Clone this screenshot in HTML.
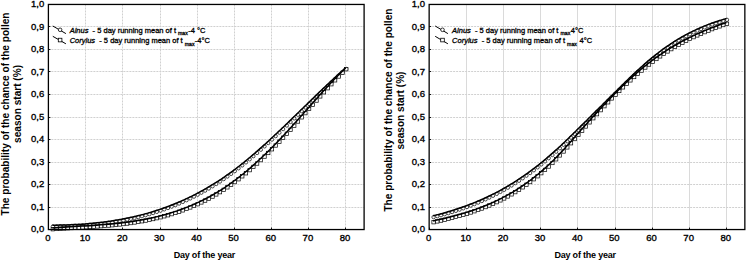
<!DOCTYPE html>
<html><head><meta charset="utf-8"><style>
html,body{margin:0;padding:0;background:#fff;}
body{width:746px;height:261px;overflow:hidden;}
svg{display:block;}
text{font-family:"Liberation Sans",sans-serif;font-weight:bold;fill:#000;white-space:pre;}
.tk{font-size:9.5px;font-weight:normal;stroke:#000;stroke-width:0.35px;}
.ti{font-size:9px;letter-spacing:-0.2px;}
.yl{font-size:10.1px;}
.lg{font-size:7.5px;font-weight:normal;stroke:#000;stroke-width:0.3px;}
.sub{font-size:5.2px;}
</style></head><body>
<svg width="746" height="261" viewBox="0 0 746 261">
<rect width="746" height="261" fill="#fff"/>
<path d="M85.50 4.45V229.55 M122.50 4.45V229.55 M160.50 4.45V229.55 M197.50 4.45V229.55 M234.50 4.45V229.55 M271.50 4.45V229.55 M308.50 4.45V229.55 M345.50 4.45V229.55 M48.40 207.50H364.10 M48.40 184.50H364.10 M48.40 162.50H364.10 M48.40 139.50H364.10 M48.40 117.50H364.10 M48.40 94.50H364.10 M48.40 71.50H364.10 M48.40 49.50H364.10 M48.40 26.50H364.10" stroke="#d0d0d0" stroke-width="1" stroke-dasharray="2 1" fill="none"/>
<path d="M48.50 229.55v-2 M85.50 229.55v-2 M122.50 229.55v-2 M160.50 229.55v-2 M197.50 229.55v-2 M234.50 229.55v-2 M271.50 229.55v-2 M308.50 229.55v-2 M345.50 229.55v-2 M48.40 229.50h2 M48.40 207.50h2 M48.40 184.50h2 M48.40 162.50h2 M48.40 139.50h2 M48.40 117.50h2 M48.40 94.50h2 M48.40 71.50h2 M48.40 49.50h2 M48.40 26.50h2 M48.40 4.50h2" stroke="#000" stroke-width="0.9" fill="none"/>
<text x="44.30" y="232.35" text-anchor="end" class="tk">0,0</text>
<text x="44.30" y="209.84" text-anchor="end" class="tk">0,1</text>
<text x="44.30" y="187.33" text-anchor="end" class="tk">0,2</text>
<text x="44.30" y="164.82" text-anchor="end" class="tk">0,3</text>
<text x="44.30" y="142.31" text-anchor="end" class="tk">0,4</text>
<text x="44.30" y="119.80" text-anchor="end" class="tk">0,5</text>
<text x="44.30" y="97.29" text-anchor="end" class="tk">0,6</text>
<text x="44.30" y="74.78" text-anchor="end" class="tk">0,7</text>
<text x="44.30" y="52.27" text-anchor="end" class="tk">0,8</text>
<text x="44.30" y="29.76" text-anchor="end" class="tk">0,9</text>
<text x="44.30" y="7.25" text-anchor="end" class="tk">1,0</text>
<text x="47.92" y="241.30" text-anchor="middle" class="tk">0</text>
<text x="85.06" y="241.30" text-anchor="middle" class="tk">10</text>
<text x="122.20" y="241.30" text-anchor="middle" class="tk">20</text>
<text x="159.34" y="241.30" text-anchor="middle" class="tk">30</text>
<text x="196.48" y="241.30" text-anchor="middle" class="tk">40</text>
<text x="233.62" y="241.30" text-anchor="middle" class="tk">50</text>
<text x="270.76" y="241.30" text-anchor="middle" class="tk">60</text>
<text x="307.90" y="241.30" text-anchor="middle" class="tk">70</text>
<text x="345.04" y="241.30" text-anchor="middle" class="tk">80</text>
<text x="204.40" y="258.30" text-anchor="middle" class="ti">Day of the year</text>
<text transform="translate(8.60,215.50) rotate(-90)" class="yl">The probability of the chance of the pollen</text>
<text transform="translate(21.30,142.90) rotate(-90)" class="yl">season start (%)</text>
<g fill="#fff" stroke="#000" stroke-width="0.7"><circle cx="52.83" cy="226.51" r="1.7"/><circle cx="56.55" cy="226.47" r="1.7"/><circle cx="60.26" cy="226.40" r="1.7"/><circle cx="63.98" cy="226.32" r="1.7"/><circle cx="67.69" cy="226.20" r="1.7"/><circle cx="71.40" cy="226.06" r="1.7"/><circle cx="75.12" cy="225.88" r="1.7"/><circle cx="78.83" cy="225.68" r="1.7"/><circle cx="82.55" cy="225.45" r="1.7"/><circle cx="86.26" cy="225.18" r="1.7"/><circle cx="89.97" cy="224.87" r="1.7"/><circle cx="93.69" cy="224.53" r="1.7"/><circle cx="97.40" cy="224.16" r="1.7"/><circle cx="101.12" cy="223.74" r="1.7"/><circle cx="104.83" cy="223.28" r="1.7"/><circle cx="108.54" cy="222.78" r="1.7"/><circle cx="112.26" cy="222.24" r="1.7"/><circle cx="115.97" cy="221.66" r="1.7"/><circle cx="119.69" cy="221.02" r="1.7"/><circle cx="123.40" cy="220.35" r="1.7"/><circle cx="127.11" cy="219.62" r="1.7"/><circle cx="130.83" cy="218.84" r="1.7"/><circle cx="134.54" cy="218.01" r="1.7"/><circle cx="138.26" cy="217.13" r="1.7"/><circle cx="141.97" cy="216.19" r="1.7"/><circle cx="145.68" cy="215.20" r="1.7"/><circle cx="149.40" cy="214.15" r="1.7"/><circle cx="153.11" cy="213.04" r="1.7"/><circle cx="156.83" cy="211.87" r="1.7"/><circle cx="160.54" cy="210.65" r="1.7"/><circle cx="164.25" cy="209.36" r="1.7"/><circle cx="167.97" cy="208.00" r="1.7"/><circle cx="171.68" cy="206.58" r="1.7"/><circle cx="175.40" cy="205.09" r="1.7"/><circle cx="179.11" cy="203.54" r="1.7"/><circle cx="182.82" cy="201.92" r="1.7"/><circle cx="186.54" cy="200.22" r="1.7"/><circle cx="190.25" cy="198.45" r="1.7"/><circle cx="193.97" cy="196.61" r="1.7"/><circle cx="197.68" cy="194.70" r="1.7"/><circle cx="201.39" cy="192.71" r="1.7"/><circle cx="205.11" cy="190.64" r="1.7"/><circle cx="208.82" cy="188.49" r="1.7"/><circle cx="212.54" cy="186.26" r="1.7"/><circle cx="216.25" cy="183.95" r="1.7"/><circle cx="219.96" cy="181.56" r="1.7"/><circle cx="223.68" cy="179.08" r="1.7"/><circle cx="227.39" cy="176.51" r="1.7"/><circle cx="231.11" cy="173.86" r="1.7"/><circle cx="234.82" cy="171.12" r="1.7"/><circle cx="238.53" cy="168.29" r="1.7"/><circle cx="242.25" cy="165.38" r="1.7"/><circle cx="245.96" cy="162.38" r="1.7"/><circle cx="249.68" cy="159.31" r="1.7"/><circle cx="253.39" cy="156.17" r="1.7"/><circle cx="257.10" cy="152.97" r="1.7"/><circle cx="260.82" cy="149.70" r="1.7"/><circle cx="264.53" cy="146.37" r="1.7"/><circle cx="268.25" cy="143.00" r="1.7"/><circle cx="271.96" cy="139.58" r="1.7"/><circle cx="275.67" cy="136.12" r="1.7"/><circle cx="279.39" cy="132.62" r="1.7"/><circle cx="283.10" cy="129.09" r="1.7"/><circle cx="286.82" cy="125.53" r="1.7"/><circle cx="290.53" cy="121.95" r="1.7"/><circle cx="294.24" cy="118.36" r="1.7"/><circle cx="297.96" cy="114.75" r="1.7"/><circle cx="301.67" cy="111.13" r="1.7"/><circle cx="305.39" cy="107.52" r="1.7"/><circle cx="309.10" cy="103.90" r="1.7"/><circle cx="312.81" cy="100.30" r="1.7"/><circle cx="316.53" cy="96.70" r="1.7"/><circle cx="320.24" cy="93.12" r="1.7"/><circle cx="323.96" cy="89.57" r="1.7"/><circle cx="327.67" cy="86.04" r="1.7"/><circle cx="331.38" cy="82.54" r="1.7"/><circle cx="335.10" cy="79.08" r="1.7"/><circle cx="338.81" cy="75.67" r="1.7"/><circle cx="342.53" cy="72.29" r="1.7"/><circle cx="346.24" cy="68.97" r="1.7"/></g>
<path d="M52.33 225.21 L56.05 225.17 L59.76 225.10 L63.48 225.02 L67.19 224.90 L70.90 224.76 L74.62 224.58 L78.33 224.38 L82.05 224.15 L85.76 223.88 L89.47 223.57 L93.19 223.23 L96.90 222.86 L100.62 222.44 L104.33 221.98 L108.04 221.48 L111.76 220.94 L115.47 220.36 L119.19 219.72 L122.90 219.05 L126.61 218.32 L130.33 217.54 L134.04 216.71 L137.76 215.83 L141.47 214.89 L145.18 213.90 L148.90 212.85 L152.61 211.74 L156.33 210.57 L160.04 209.35 L163.75 208.06 L167.47 206.70 L171.18 205.28 L174.90 203.79 L178.61 202.24 L182.32 200.62 L186.04 198.92 L189.75 197.15 L193.47 195.31 L197.18 193.40 L200.89 191.41 L204.61 189.34 L208.32 187.19 L212.04 184.96 L215.75 182.65 L219.46 180.26 L223.18 177.78 L226.89 175.21 L230.61 172.56 L234.32 169.82 L238.03 166.99 L241.75 164.08 L245.46 161.08 L249.18 158.01 L252.89 154.87 L256.60 151.67 L260.32 148.40 L264.03 145.07 L267.75 141.70 L271.46 138.28 L275.17 134.82 L278.89 131.32 L282.60 127.79 L286.32 124.23 L290.03 120.65 L293.74 117.06 L297.46 113.45 L301.17 109.83 L304.89 106.22 L308.60 102.60 L312.31 99.00 L316.03 95.40 L319.74 91.82 L323.46 88.27 L327.17 84.74 L330.88 81.24 L334.60 77.78 L338.31 74.37 L342.03 70.99 L345.74 67.67" stroke="#000" stroke-width="1.5" fill="none"/>
<g fill="#fff" stroke="#000" stroke-width="0.7"><rect x="51.13" y="227.51" width="3.40" height="3.40"/><rect x="54.85" y="227.26" width="3.40" height="3.40"/><rect x="58.56" y="227.02" width="3.40" height="3.40"/><rect x="62.28" y="226.79" width="3.40" height="3.40"/><rect x="65.99" y="226.57" width="3.40" height="3.40"/><rect x="69.70" y="226.35" width="3.40" height="3.40"/><rect x="73.42" y="226.14" width="3.40" height="3.40"/><rect x="77.13" y="225.92" width="3.40" height="3.40"/><rect x="80.85" y="225.70" width="3.40" height="3.40"/><rect x="84.56" y="225.48" width="3.40" height="3.40"/><rect x="88.27" y="225.25" width="3.40" height="3.40"/><rect x="91.99" y="225.01" width="3.40" height="3.40"/><rect x="95.70" y="224.75" width="3.40" height="3.40"/><rect x="99.42" y="224.47" width="3.40" height="3.40"/><rect x="103.13" y="224.18" width="3.40" height="3.40"/><rect x="106.84" y="223.86" width="3.40" height="3.40"/><rect x="110.56" y="223.52" width="3.40" height="3.40"/><rect x="114.27" y="223.15" width="3.40" height="3.40"/><rect x="117.99" y="222.75" width="3.40" height="3.40"/><rect x="121.70" y="222.32" width="3.40" height="3.40"/><rect x="125.41" y="221.85" width="3.40" height="3.40"/><rect x="129.13" y="221.35" width="3.40" height="3.40"/><rect x="132.84" y="220.80" width="3.40" height="3.40"/><rect x="136.56" y="220.20" width="3.40" height="3.40"/><rect x="140.27" y="219.57" width="3.40" height="3.40"/><rect x="143.98" y="218.88" width="3.40" height="3.40"/><rect x="147.70" y="218.13" width="3.40" height="3.40"/><rect x="151.41" y="217.34" width="3.40" height="3.40"/><rect x="155.13" y="216.48" width="3.40" height="3.40"/><rect x="158.84" y="215.57" width="3.40" height="3.40"/><rect x="162.55" y="214.59" width="3.40" height="3.40"/><rect x="166.27" y="213.55" width="3.40" height="3.40"/><rect x="169.98" y="212.43" width="3.40" height="3.40"/><rect x="173.70" y="211.25" width="3.40" height="3.40"/><rect x="177.41" y="209.99" width="3.40" height="3.40"/><rect x="181.12" y="208.66" width="3.40" height="3.40"/><rect x="184.84" y="207.24" width="3.40" height="3.40"/><rect x="188.55" y="205.74" width="3.40" height="3.40"/><rect x="192.27" y="204.16" width="3.40" height="3.40"/><rect x="195.98" y="202.49" width="3.40" height="3.40"/><rect x="199.69" y="200.73" width="3.40" height="3.40"/><rect x="203.41" y="198.88" width="3.40" height="3.40"/><rect x="207.12" y="196.93" width="3.40" height="3.40"/><rect x="210.84" y="194.88" width="3.40" height="3.40"/><rect x="214.55" y="192.73" width="3.40" height="3.40"/><rect x="218.26" y="190.47" width="3.40" height="3.40"/><rect x="221.98" y="188.11" width="3.40" height="3.40"/><rect x="225.69" y="185.64" width="3.40" height="3.40"/><rect x="229.41" y="183.06" width="3.40" height="3.40"/><rect x="233.12" y="180.36" width="3.40" height="3.40"/><rect x="236.83" y="177.54" width="3.40" height="3.40"/><rect x="240.55" y="174.61" width="3.40" height="3.40"/><rect x="244.26" y="171.58" width="3.40" height="3.40"/><rect x="247.98" y="168.43" width="3.40" height="3.40"/><rect x="251.69" y="165.18" width="3.40" height="3.40"/><rect x="255.40" y="161.84" width="3.40" height="3.40"/><rect x="259.12" y="158.40" width="3.40" height="3.40"/><rect x="262.83" y="154.88" width="3.40" height="3.40"/><rect x="266.55" y="151.27" width="3.40" height="3.40"/><rect x="270.26" y="147.57" width="3.40" height="3.40"/><rect x="273.97" y="143.80" width="3.40" height="3.40"/><rect x="277.69" y="139.96" width="3.40" height="3.40"/><rect x="281.40" y="136.05" width="3.40" height="3.40"/><rect x="285.12" y="132.07" width="3.40" height="3.40"/><rect x="288.83" y="128.04" width="3.40" height="3.40"/><rect x="292.54" y="123.94" width="3.40" height="3.40"/><rect x="296.26" y="119.81" width="3.40" height="3.40"/><rect x="299.97" y="115.63" width="3.40" height="3.40"/><rect x="303.69" y="111.44" width="3.40" height="3.40"/><rect x="307.40" y="107.24" width="3.40" height="3.40"/><rect x="311.11" y="103.04" width="3.40" height="3.40"/><rect x="314.83" y="98.85" width="3.40" height="3.40"/><rect x="318.54" y="94.69" width="3.40" height="3.40"/><rect x="322.26" y="90.58" width="3.40" height="3.40"/><rect x="325.97" y="86.52" width="3.40" height="3.40"/><rect x="329.68" y="82.52" width="3.40" height="3.40"/><rect x="333.40" y="78.61" width="3.40" height="3.40"/><rect x="337.11" y="74.80" width="3.40" height="3.40"/><rect x="340.83" y="71.09" width="3.40" height="3.40"/><rect x="344.54" y="67.50" width="3.40" height="3.40"/></g>
<path d="M52.33 227.91 L56.05 227.66 L59.76 227.42 L63.48 227.19 L67.19 226.97 L70.90 226.75 L74.62 226.54 L78.33 226.32 L82.05 226.10 L85.76 225.88 L89.47 225.65 L93.19 225.41 L96.90 225.15 L100.62 224.87 L104.33 224.58 L108.04 224.26 L111.76 223.92 L115.47 223.55 L119.19 223.15 L122.90 222.72 L126.61 222.25 L130.33 221.75 L134.04 221.20 L137.76 220.60 L141.47 219.97 L145.18 219.28 L148.90 218.53 L152.61 217.74 L156.33 216.88 L160.04 215.97 L163.75 214.99 L167.47 213.95 L171.18 212.83 L174.90 211.65 L178.61 210.39 L182.32 209.06 L186.04 207.64 L189.75 206.14 L193.47 204.56 L197.18 202.89 L200.89 201.13 L204.61 199.28 L208.32 197.33 L212.04 195.28 L215.75 193.13 L219.46 190.87 L223.18 188.51 L226.89 186.04 L230.61 183.46 L234.32 180.76 L238.03 177.94 L241.75 175.01 L245.46 171.98 L249.18 168.83 L252.89 165.58 L256.60 162.24 L260.32 158.80 L264.03 155.28 L267.75 151.67 L271.46 147.97 L275.17 144.20 L278.89 140.36 L282.60 136.45 L286.32 132.47 L290.03 128.44 L293.74 124.34 L297.46 120.21 L301.17 116.03 L304.89 111.84 L308.60 107.64 L312.31 103.44 L316.03 99.25 L319.74 95.09 L323.46 90.98 L327.17 86.92 L330.88 82.92 L334.60 79.01 L338.31 75.20 L342.03 71.49 L345.74 67.90" stroke="#000" stroke-width="1.5" fill="none"/>
<rect x="48.40" y="4.45" width="315.70" height="225.10" fill="none" stroke="#000" stroke-width="1.3"/>
<rect x="49.2" y="27.3" width="165" height="16" fill="#fff"/>
<path d="M52.8 26L65.9 33.6M52.8 36.3L65.9 43.8" stroke="#000" stroke-width="1"/>
<circle cx="60.1" cy="29.8" r="1.8" fill="#fff" stroke="#000" stroke-width="0.8"/>
<rect x="58.300000000000004" y="38.25" width="3.6" height="3.6" fill="#fff" stroke="#000" stroke-width="0.8"/>
<text x="69.7" y="32.7" class="lg"><tspan font-style="italic">Alnus</tspan>  - 5 day running mean of t<tspan class="sub" dx="2" dy="2.6">max</tspan><tspan dx="0.3" dy="-2.6">-4 °C</tspan></text>
<text x="69.7" y="42.9" class="lg"><tspan font-style="italic">Corylus</tspan>  - 5 day running mean of t<tspan class="sub" dx="2" dy="2.6">max</tspan><tspan dx="0.3" dy="-2.6">-4°C</tspan></text>
<path d="M466.50 4.45V229.55 M503.50 4.45V229.55 M540.50 4.45V229.55 M577.50 4.45V229.55 M615.50 4.45V229.55 M652.50 4.45V229.55 M689.50 4.45V229.55 M726.50 4.45V229.55" stroke="#dadada" stroke-width="1" fill="none"/>
<path d="M429.15 207.50H744.85 M429.15 184.50H744.85 M429.15 162.50H744.85 M429.15 139.50H744.85 M429.15 117.50H744.85 M429.15 94.50H744.85 M429.15 71.50H744.85 M429.15 49.50H744.85 M429.15 26.50H744.85" stroke="#d0d0d0" stroke-width="1" stroke-dasharray="2 1" fill="none"/>
<path d="M429.50 229.55v-2 M466.50 229.55v-2 M503.50 229.55v-2 M540.50 229.55v-2 M577.50 229.55v-2 M615.50 229.55v-2 M652.50 229.55v-2 M689.50 229.55v-2 M726.50 229.55v-2 M429.15 229.50h2 M429.15 207.50h2 M429.15 184.50h2 M429.15 162.50h2 M429.15 139.50h2 M429.15 117.50h2 M429.15 94.50h2 M429.15 71.50h2 M429.15 49.50h2 M429.15 26.50h2 M429.15 4.50h2" stroke="#000" stroke-width="0.9" fill="none"/>
<text x="425.05" y="232.35" text-anchor="end" class="tk">0,0</text>
<text x="425.05" y="209.84" text-anchor="end" class="tk">0,1</text>
<text x="425.05" y="187.33" text-anchor="end" class="tk">0,2</text>
<text x="425.05" y="164.82" text-anchor="end" class="tk">0,3</text>
<text x="425.05" y="142.31" text-anchor="end" class="tk">0,4</text>
<text x="425.05" y="119.80" text-anchor="end" class="tk">0,5</text>
<text x="425.05" y="97.29" text-anchor="end" class="tk">0,6</text>
<text x="425.05" y="74.78" text-anchor="end" class="tk">0,7</text>
<text x="425.05" y="52.27" text-anchor="end" class="tk">0,8</text>
<text x="425.05" y="29.76" text-anchor="end" class="tk">0,9</text>
<text x="425.05" y="7.25" text-anchor="end" class="tk">1,0</text>
<text x="428.67" y="241.30" text-anchor="middle" class="tk">0</text>
<text x="465.81" y="241.30" text-anchor="middle" class="tk">10</text>
<text x="502.95" y="241.30" text-anchor="middle" class="tk">20</text>
<text x="540.09" y="241.30" text-anchor="middle" class="tk">30</text>
<text x="577.23" y="241.30" text-anchor="middle" class="tk">40</text>
<text x="614.37" y="241.30" text-anchor="middle" class="tk">50</text>
<text x="651.51" y="241.30" text-anchor="middle" class="tk">60</text>
<text x="688.65" y="241.30" text-anchor="middle" class="tk">70</text>
<text x="725.79" y="241.30" text-anchor="middle" class="tk">80</text>
<text x="585.15" y="258.30" text-anchor="middle" class="ti">Day of the year</text>
<text transform="translate(392.00,211.60) rotate(-90)" class="yl">The probability of the chance of the pollen</text>
<text transform="translate(404.40,149.50) rotate(-90)" class="yl">season start (%)</text>
<g fill="#fff" stroke="#000" stroke-width="0.7"><circle cx="433.58" cy="217.12" r="1.7"/><circle cx="437.30" cy="216.19" r="1.7"/><circle cx="441.01" cy="215.23" r="1.7"/><circle cx="444.73" cy="214.21" r="1.7"/><circle cx="448.44" cy="213.14" r="1.7"/><circle cx="452.15" cy="212.03" r="1.7"/><circle cx="455.87" cy="210.86" r="1.7"/><circle cx="459.58" cy="209.63" r="1.7"/><circle cx="463.30" cy="208.35" r="1.7"/><circle cx="467.01" cy="207.00" r="1.7"/><circle cx="470.72" cy="205.60" r="1.7"/><circle cx="474.44" cy="204.13" r="1.7"/><circle cx="478.15" cy="202.59" r="1.7"/><circle cx="481.87" cy="200.99" r="1.7"/><circle cx="485.58" cy="199.32" r="1.7"/><circle cx="489.29" cy="197.57" r="1.7"/><circle cx="493.01" cy="195.75" r="1.7"/><circle cx="496.72" cy="193.85" r="1.7"/><circle cx="500.44" cy="191.88" r="1.7"/><circle cx="504.15" cy="189.82" r="1.7"/><circle cx="507.86" cy="187.68" r="1.7"/><circle cx="511.58" cy="185.46" r="1.7"/><circle cx="515.29" cy="183.15" r="1.7"/><circle cx="519.01" cy="180.75" r="1.7"/><circle cx="522.72" cy="178.27" r="1.7"/><circle cx="526.43" cy="175.68" r="1.7"/><circle cx="530.15" cy="173.01" r="1.7"/><circle cx="533.86" cy="170.24" r="1.7"/><circle cx="537.58" cy="167.37" r="1.7"/><circle cx="541.29" cy="164.41" r="1.7"/><circle cx="545.00" cy="161.36" r="1.7"/><circle cx="548.72" cy="158.22" r="1.7"/><circle cx="552.43" cy="154.99" r="1.7"/><circle cx="556.15" cy="151.67" r="1.7"/><circle cx="559.86" cy="148.26" r="1.7"/><circle cx="563.57" cy="144.78" r="1.7"/><circle cx="567.29" cy="141.23" r="1.7"/><circle cx="571.00" cy="137.63" r="1.7"/><circle cx="574.72" cy="134.00" r="1.7"/><circle cx="578.43" cy="130.34" r="1.7"/><circle cx="582.14" cy="126.67" r="1.7"/><circle cx="585.86" cy="123.00" r="1.7"/><circle cx="589.57" cy="119.32" r="1.7"/><circle cx="593.29" cy="115.63" r="1.7"/><circle cx="597.00" cy="111.94" r="1.7"/><circle cx="600.71" cy="108.25" r="1.7"/><circle cx="604.43" cy="104.55" r="1.7"/><circle cx="608.14" cy="100.86" r="1.7"/><circle cx="611.86" cy="97.17" r="1.7"/><circle cx="615.57" cy="93.49" r="1.7"/><circle cx="619.28" cy="89.81" r="1.7"/><circle cx="623.00" cy="86.15" r="1.7"/><circle cx="626.71" cy="82.51" r="1.7"/><circle cx="630.43" cy="78.92" r="1.7"/><circle cx="634.14" cy="75.38" r="1.7"/><circle cx="637.85" cy="71.90" r="1.7"/><circle cx="641.57" cy="68.50" r="1.7"/><circle cx="645.28" cy="65.19" r="1.7"/><circle cx="649.00" cy="61.97" r="1.7"/><circle cx="652.71" cy="58.87" r="1.7"/><circle cx="656.42" cy="55.88" r="1.7"/><circle cx="660.14" cy="53.02" r="1.7"/><circle cx="663.85" cy="50.27" r="1.7"/><circle cx="667.57" cy="47.65" r="1.7"/><circle cx="671.28" cy="45.14" r="1.7"/><circle cx="674.99" cy="42.74" r="1.7"/><circle cx="678.71" cy="40.46" r="1.7"/><circle cx="682.42" cy="38.29" r="1.7"/><circle cx="686.14" cy="36.23" r="1.7"/><circle cx="689.85" cy="34.27" r="1.7"/><circle cx="693.56" cy="32.42" r="1.7"/><circle cx="697.28" cy="30.66" r="1.7"/><circle cx="700.99" cy="29.00" r="1.7"/><circle cx="704.71" cy="27.44" r="1.7"/><circle cx="708.42" cy="25.96" r="1.7"/><circle cx="712.13" cy="24.57" r="1.7"/><circle cx="715.85" cy="23.27" r="1.7"/><circle cx="719.56" cy="22.04" r="1.7"/><circle cx="723.28" cy="20.90" r="1.7"/><circle cx="726.99" cy="19.83" r="1.7"/></g>
<path d="M433.08 215.82 L436.80 214.89 L440.51 213.93 L444.23 212.91 L447.94 211.84 L451.65 210.73 L455.37 209.56 L459.08 208.33 L462.80 207.05 L466.51 205.70 L470.22 204.30 L473.94 202.83 L477.65 201.29 L481.37 199.69 L485.08 198.02 L488.79 196.27 L492.51 194.45 L496.22 192.55 L499.94 190.58 L503.65 188.52 L507.36 186.38 L511.08 184.16 L514.79 181.85 L518.51 179.45 L522.22 176.97 L525.93 174.38 L529.65 171.71 L533.36 168.94 L537.08 166.07 L540.79 163.11 L544.50 160.06 L548.22 156.92 L551.93 153.69 L555.65 150.37 L559.36 146.96 L563.07 143.48 L566.79 139.93 L570.50 136.33 L574.22 132.70 L577.93 129.04 L581.64 125.37 L585.36 121.70 L589.07 118.02 L592.79 114.33 L596.50 110.64 L600.21 106.95 L603.93 103.25 L607.64 99.56 L611.36 95.87 L615.07 92.19 L618.78 88.51 L622.50 84.85 L626.21 81.21 L629.93 77.62 L633.64 74.08 L637.35 70.60 L641.07 67.20 L644.78 63.89 L648.50 60.67 L652.21 57.57 L655.92 54.58 L659.64 51.72 L663.35 48.97 L667.07 46.35 L670.78 43.84 L674.49 41.44 L678.21 39.16 L681.92 36.99 L685.64 34.93 L689.35 32.97 L693.06 31.12 L696.78 29.36 L700.49 27.70 L704.21 26.14 L707.92 24.66 L711.63 23.27 L715.35 21.97 L719.06 20.74 L722.78 19.60 L726.49 18.53" stroke="#000" stroke-width="1.5" fill="none"/>
<g fill="#fff" stroke="#000" stroke-width="0.7"><rect x="431.88" y="220.50" width="3.40" height="3.40"/><rect x="435.60" y="219.70" width="3.40" height="3.40"/><rect x="439.31" y="218.87" width="3.40" height="3.40"/><rect x="443.03" y="218.00" width="3.40" height="3.40"/><rect x="446.74" y="217.11" width="3.40" height="3.40"/><rect x="450.45" y="216.18" width="3.40" height="3.40"/><rect x="454.17" y="215.20" width="3.40" height="3.40"/><rect x="457.88" y="214.18" width="3.40" height="3.40"/><rect x="461.60" y="213.11" width="3.40" height="3.40"/><rect x="465.31" y="211.98" width="3.40" height="3.40"/><rect x="469.02" y="210.79" width="3.40" height="3.40"/><rect x="472.74" y="209.54" width="3.40" height="3.40"/><rect x="476.45" y="208.22" width="3.40" height="3.40"/><rect x="480.17" y="206.83" width="3.40" height="3.40"/><rect x="483.88" y="205.37" width="3.40" height="3.40"/><rect x="487.59" y="203.82" width="3.40" height="3.40"/><rect x="491.31" y="202.19" width="3.40" height="3.40"/><rect x="495.02" y="200.48" width="3.40" height="3.40"/><rect x="498.74" y="198.67" width="3.40" height="3.40"/><rect x="502.45" y="196.76" width="3.40" height="3.40"/><rect x="506.16" y="194.75" width="3.40" height="3.40"/><rect x="509.88" y="192.64" width="3.40" height="3.40"/><rect x="513.59" y="190.42" width="3.40" height="3.40"/><rect x="517.31" y="188.08" width="3.40" height="3.40"/><rect x="521.02" y="185.63" width="3.40" height="3.40"/><rect x="524.73" y="183.06" width="3.40" height="3.40"/><rect x="528.45" y="180.36" width="3.40" height="3.40"/><rect x="532.16" y="177.53" width="3.40" height="3.40"/><rect x="535.88" y="174.57" width="3.40" height="3.40"/><rect x="539.59" y="171.47" width="3.40" height="3.40"/><rect x="543.30" y="168.22" width="3.40" height="3.40"/><rect x="547.02" y="164.83" width="3.40" height="3.40"/><rect x="550.73" y="161.29" width="3.40" height="3.40"/><rect x="554.45" y="157.59" width="3.40" height="3.40"/><rect x="558.16" y="153.74" width="3.40" height="3.40"/><rect x="561.87" y="149.77" width="3.40" height="3.40"/><rect x="565.59" y="145.69" width="3.40" height="3.40"/><rect x="569.30" y="141.54" width="3.40" height="3.40"/><rect x="573.02" y="137.34" width="3.40" height="3.40"/><rect x="576.73" y="133.14" width="3.40" height="3.40"/><rect x="580.44" y="128.95" width="3.40" height="3.40"/><rect x="584.16" y="124.78" width="3.40" height="3.40"/><rect x="587.87" y="120.64" width="3.40" height="3.40"/><rect x="591.59" y="116.53" width="3.40" height="3.40"/><rect x="595.30" y="112.47" width="3.40" height="3.40"/><rect x="599.01" y="108.45" width="3.40" height="3.40"/><rect x="602.73" y="104.49" width="3.40" height="3.40"/><rect x="606.44" y="100.58" width="3.40" height="3.40"/><rect x="610.16" y="96.73" width="3.40" height="3.40"/><rect x="613.87" y="92.96" width="3.40" height="3.40"/><rect x="617.58" y="89.26" width="3.40" height="3.40"/><rect x="621.30" y="85.64" width="3.40" height="3.40"/><rect x="625.01" y="82.11" width="3.40" height="3.40"/><rect x="628.73" y="78.66" width="3.40" height="3.40"/><rect x="632.44" y="75.30" width="3.40" height="3.40"/><rect x="636.15" y="72.04" width="3.40" height="3.40"/><rect x="639.87" y="68.88" width="3.40" height="3.40"/><rect x="643.58" y="65.82" width="3.40" height="3.40"/><rect x="647.30" y="62.86" width="3.40" height="3.40"/><rect x="651.01" y="60.02" width="3.40" height="3.40"/><rect x="654.72" y="57.29" width="3.40" height="3.40"/><rect x="658.44" y="54.67" width="3.40" height="3.40"/><rect x="662.15" y="52.15" width="3.40" height="3.40"/><rect x="665.87" y="49.74" width="3.40" height="3.40"/><rect x="669.58" y="47.43" width="3.40" height="3.40"/><rect x="673.29" y="45.21" width="3.40" height="3.40"/><rect x="677.01" y="43.09" width="3.40" height="3.40"/><rect x="680.72" y="41.05" width="3.40" height="3.40"/><rect x="684.44" y="39.10" width="3.40" height="3.40"/><rect x="688.15" y="37.22" width="3.40" height="3.40"/><rect x="691.86" y="35.43" width="3.40" height="3.40"/><rect x="695.58" y="33.70" width="3.40" height="3.40"/><rect x="699.29" y="32.05" width="3.40" height="3.40"/><rect x="703.01" y="30.45" width="3.40" height="3.40"/><rect x="706.72" y="28.92" width="3.40" height="3.40"/><rect x="710.43" y="27.45" width="3.40" height="3.40"/><rect x="714.15" y="26.03" width="3.40" height="3.40"/><rect x="717.86" y="24.66" width="3.40" height="3.40"/><rect x="721.58" y="23.34" width="3.40" height="3.40"/><rect x="725.29" y="22.06" width="3.40" height="3.40"/></g>
<path d="M433.08 220.90 L436.80 220.10 L440.51 219.27 L444.23 218.40 L447.94 217.51 L451.65 216.58 L455.37 215.60 L459.08 214.58 L462.80 213.51 L466.51 212.38 L470.22 211.19 L473.94 209.94 L477.65 208.62 L481.37 207.23 L485.08 205.77 L488.79 204.22 L492.51 202.59 L496.22 200.88 L499.94 199.07 L503.65 197.16 L507.36 195.15 L511.08 193.04 L514.79 190.82 L518.51 188.48 L522.22 186.03 L525.93 183.46 L529.65 180.76 L533.36 177.93 L537.08 174.97 L540.79 171.87 L544.50 168.62 L548.22 165.23 L551.93 161.69 L555.65 157.99 L559.36 154.14 L563.07 150.17 L566.79 146.09 L570.50 141.94 L574.22 137.74 L577.93 133.54 L581.64 129.35 L585.36 125.18 L589.07 121.04 L592.79 116.93 L596.50 112.87 L600.21 108.85 L603.93 104.89 L607.64 100.98 L611.36 97.13 L615.07 93.36 L618.78 89.66 L622.50 86.04 L626.21 82.51 L629.93 79.06 L633.64 75.70 L637.35 72.44 L641.07 69.28 L644.78 66.22 L648.50 63.26 L652.21 60.42 L655.92 57.69 L659.64 55.07 L663.35 52.55 L667.07 50.14 L670.78 47.83 L674.49 45.61 L678.21 43.49 L681.92 41.45 L685.64 39.50 L689.35 37.62 L693.06 35.83 L696.78 34.10 L700.49 32.45 L704.21 30.85 L707.92 29.32 L711.63 27.85 L715.35 26.43 L719.06 25.06 L722.78 23.74 L726.49 22.46" stroke="#000" stroke-width="1.5" fill="none"/>
<rect x="429.15" y="4.45" width="315.70" height="225.10" fill="none" stroke="#000" stroke-width="1.3"/>
<path d="M435.2 26L447.9 33.6M435.2 36.3L447.9 43.8" stroke="#000" stroke-width="1"/>
<circle cx="442.5" cy="29.8" r="1.8" fill="#fff" stroke="#000" stroke-width="0.8"/>
<rect x="440.7" y="38.25" width="3.6" height="3.6" fill="#fff" stroke="#000" stroke-width="0.8"/>
<text x="452.1" y="32.7" class="lg"><tspan font-style="italic">Alnus</tspan>  - 5 day running mean of t<tspan class="sub" dx="2" dy="2.6">max</tspan><tspan dx="0.5" dy="-2.6">4°C</tspan></text>
<text x="452.1" y="42.9" class="lg"><tspan font-style="italic">Corylus</tspan>  - 5 day running mean of t<tspan class="sub" dx="2" dy="2.6">max</tspan><tspan dx="0.5" dy="-2.6"> 4°C</tspan></text>
</svg>
</body></html>
